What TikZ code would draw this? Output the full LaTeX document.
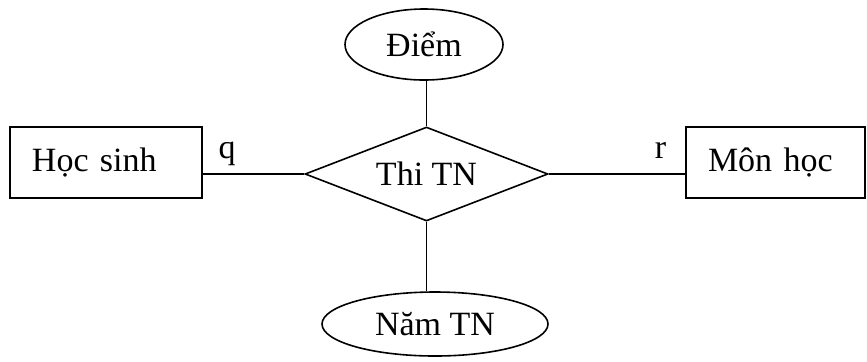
\documentclass[tikz,border=0pt]{standalone}
\usepackage{fontspec}
\setmainfont{Liberation Serif}
\usepackage{tikz}
\usetikzlibrary{shapes.geometric}

\begin{document}
\begin{tikzpicture}[x=0.5pt,y=-0.5pt,
line width=0.8pt,
entity/.style={
	rectangle,minimum height=35.5pt,inner xsep=11pt,align=left,
	draw=black,
	font=\fontsize{17}{20}\selectfont},
attr/.style={
	ellipse,inner sep=0pt,
	draw=black,
	font=\fontsize{17}{20}\selectfont},
rel/.style={
	diamond,aspect=2.6,minimum width=121.5pt,minimum height=47pt,inner sep=0pt,
	draw=black,
	font=\fontsize{17}{20}\selectfont},
card/.style={inner sep=0pt,font=\fontsize{17}{20}\selectfont}
]
\useasboundingbox (0,0) rectangle (867,361);
\node[entity,text width=74pt] (hs) at (106,162.5) {Học sinh};
\node[entity,text width=67.5pt] (mh) at (775.5,162.5) {Môn học};
\node[rel] (thi) at (426.5,174) {Thi TN};
\node[attr,minimum width=79pt,minimum height=35.5pt] (diem) at (424,44.5) {Điểm};
\node[attr,minimum width=113pt,minimum height=32pt] (nam) at (435,324) {Năm TN};
\draw (hs.east |- thi.west) -- node[card,pos=.24,above=3.5pt]{q} (thi.west);
\draw (thi.east) -- node[card,pos=.82,above=7.5pt]{r} (thi.east -| mh.west);
\draw (thi.north |- diem.south) -- (thi.north);
\draw (thi.south) -- (thi.south |- nam.north);
\end{tikzpicture}
\end{document}
